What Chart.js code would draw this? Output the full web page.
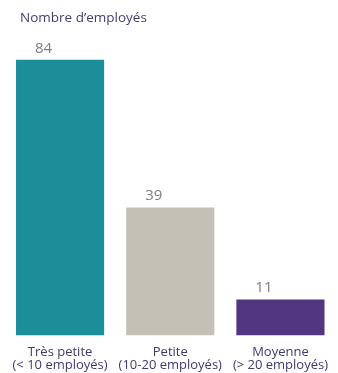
<!DOCTYPE html>
<html>
<head>
<meta charset="utf-8">
<script src="https://cdn.jsdelivr.net/npm/chart.js@4"></script>
<style>
  html, body { margin: 0; padding: 0; background: #fff; }
  #wrap { width: 338px; height: 373px; position: relative; }
</style>
</head>
<body>
<div id="wrap"><canvas id="chart"></canvas></div>
<script>
const categories = [['Très petite', '(< 10 employés)'], ['Petite', '(10-20 employés)'], ['Moyenne', '(> 20 employés)']];
const employees = [84, 39, 11];
const barColors = ['#1b8f99', '#c3c0b6', '#513580'];
const chartTitle = 'Nombre d\u2019employés';

// title + value labels drawn on top of the canvas
const labelsPlugin = {
    id: 'labels',
    afterDatasetsDraw(chart) {
        const ctx = chart.ctx;
        ctx.save();
        ctx.font = '13.5px "Open Sans", sans-serif';
        ctx.fillStyle = '#473a6b';
        ctx.textBaseline = 'alphabetic';
        ctx.textAlign = 'left';
        ctx.fillText(chartTitle, 20, 22);

        ctx.font = '15px "Open Sans", sans-serif';
        ctx.fillStyle = '#7d7d7d';
        chart.getDatasetMeta(0).data.forEach((bar, i) => {
            const left = bar.x - bar.width / 2;
            ctx.fillText(String(employees[i]), left + 19, bar.y - 7);
        });
        ctx.restore();
    }
};

new Chart(document.getElementById('chart'), {
    type: 'bar',
    data: {
        labels: categories,
        datasets: [{
            data: employees,
            backgroundColor: barColors,
            borderWidth: 0,
            barPercentage: 0.8,
            categoryPercentage: 1
        }]
    },
    options: {
        responsive: true,
        maintainAspectRatio: false,
        animation: false,
        layout: { padding: { left: 5, right: 0, top: 40, bottom: -8.5 } },
        plugins: { legend: { display: false }, tooltip: { enabled: false } },
        scales: {
            x: {
                grid: { display: false, drawTicks: false },
                border: { display: false },
                ticks: {
                    color: '#3e3a6e',
                    font: { family: '"Open Sans", sans-serif', size: 13, lineHeight: 1.0 },
                    padding: 10,
                    maxRotation: 0
                }
            },
            y: {
                display: false,
                min: 0,
                max: 90
            }
        }
    },
    plugins: [labelsPlugin]
});
</script>
</body>
</html>
